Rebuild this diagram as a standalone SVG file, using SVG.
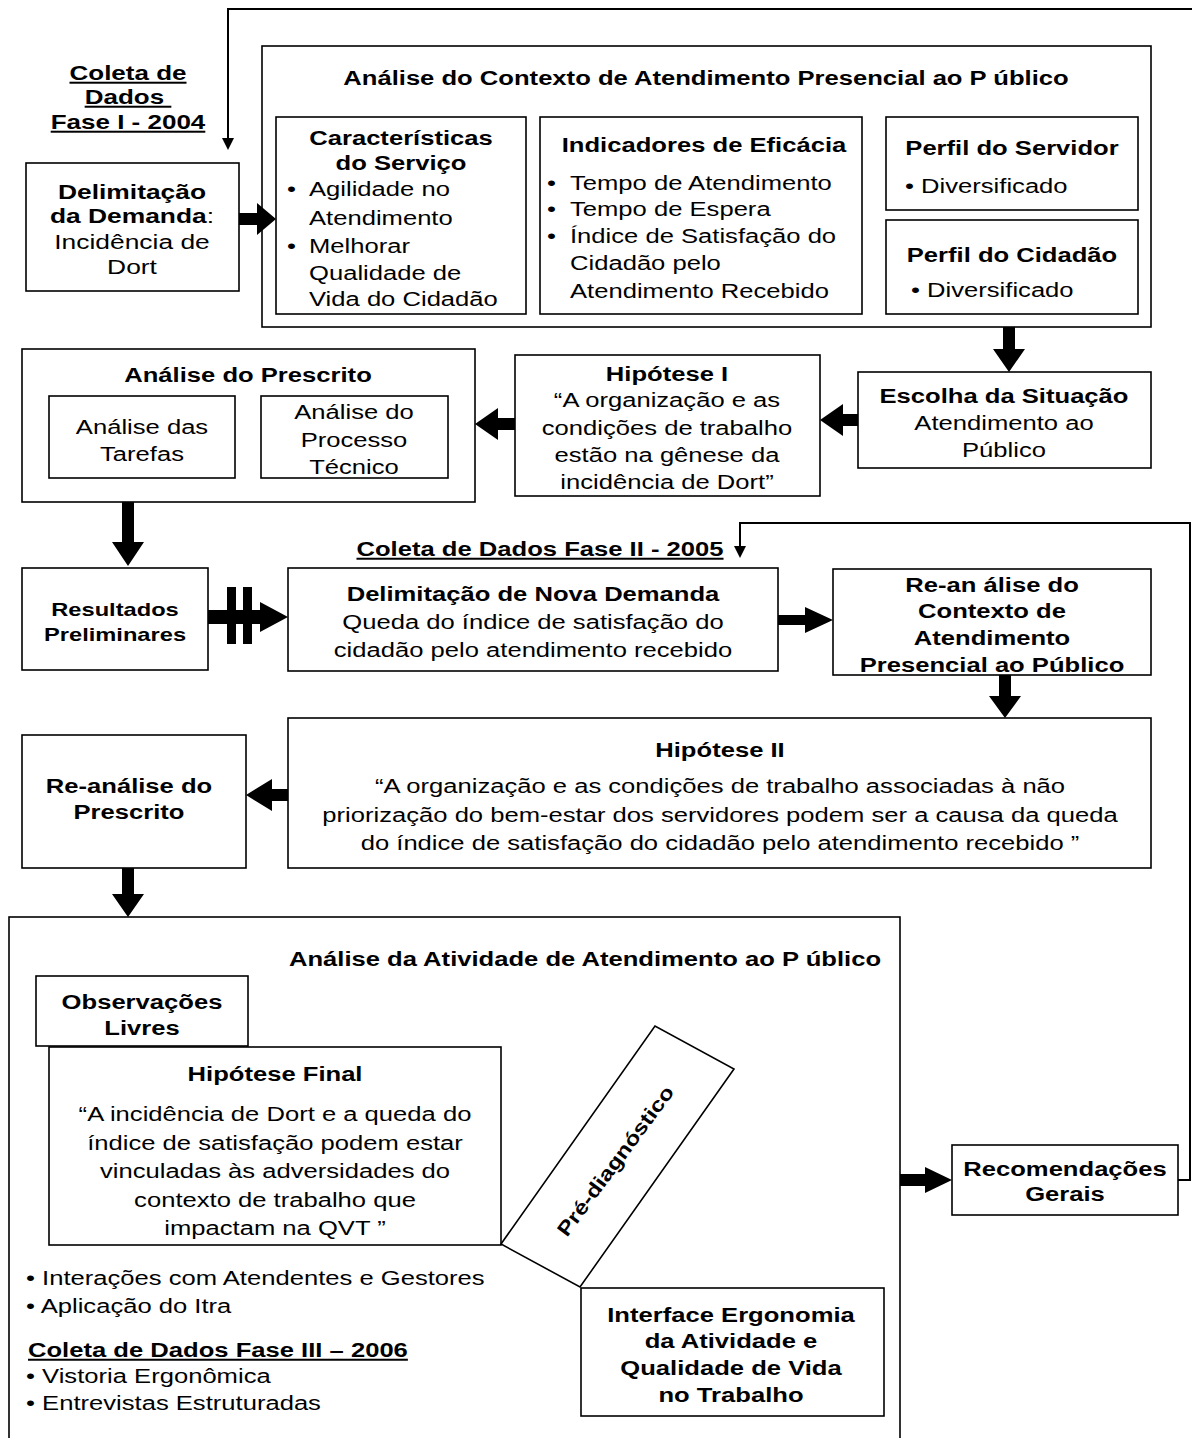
<svg xmlns="http://www.w3.org/2000/svg" width="1192" height="1438" viewBox="0 0 1192 1438">
<style>
text{font-family:"Liberation Sans",Arial,Helvetica,sans-serif;font-size:20px;fill:#000}
.b{font-weight:bold}
.m{text-anchor:middle}
.u{text-decoration:underline}
.box{fill:#fff;stroke:#000;stroke-width:1.6}
.ln{fill:none;stroke:#000;stroke-width:2}
.ar{fill:#000;stroke:none}
</style>
<rect width="1192" height="1438" fill="#fff"/>

<g id="coleta1">
<text class="b m u" transform="translate(128,0) scale(1.3,1)"><tspan x="0" y="80">Coleta de</tspan><tspan x="0" y="104">Dados </tspan><tspan x="0" y="129">Fase I - 2004</tspan></text>
</g>

<g id="delimitacao">
<rect class="box" x="26" y="163" width="213" height="128"/>
<text class="m" transform="translate(132,0) scale(1.32,1)"><tspan x="0" y="199" class="b">Delimitação</tspan><tspan x="0" y="223"><tspan class="b">da Demanda</tspan>:</tspan><tspan x="0" y="249">Incidência de</tspan><tspan x="0" y="274">Dort</tspan></text>
</g>

<g id="contexto">
<rect class="box" x="262" y="46" width="889" height="281"/>
<text class="b m" transform="translate(706,0) scale(1.28,1)"><tspan x="0" y="85">Análise do Contexto de Atendimento Presencial ao P úblico</tspan></text>
<g id="caracteristicas">
<rect class="box" x="276" y="117" width="250" height="197"/>
<text class="b m" transform="translate(401,0) scale(1.28,1)"><tspan x="0" y="145">Características</tspan><tspan x="0" y="170">do Serviço</tspan></text>
<text transform="translate(287,0) scale(1.28,1)"><tspan x="0" y="196">•</tspan><tspan x="0" y="253">•</tspan></text>
<text transform="translate(309,0) scale(1.28,1)"><tspan x="0" y="196">Agilidade no</tspan><tspan x="0" y="225">Atendimento</tspan><tspan x="0" y="253">Melhorar</tspan><tspan x="0" y="280">Qualidade de</tspan><tspan x="0" y="306">Vida do Cidadão</tspan></text>
</g>
<g id="indicadores">
<rect class="box" x="540" y="117" width="322" height="197"/>
<text class="b m" transform="translate(704,0) scale(1.28,1)"><tspan x="0" y="152">Indicadores de Eficácia</tspan></text>
<text transform="translate(547,0) scale(1.28,1)"><tspan x="0" y="190">•</tspan><tspan x="0" y="216">•</tspan><tspan x="0" y="243">•</tspan></text>
<text transform="translate(570,0) scale(1.28,1)"><tspan x="0" y="190">Tempo de Atendimento</tspan><tspan x="0" y="216">Tempo de Espera</tspan><tspan x="0" y="243">Índice de Satisfação do</tspan><tspan x="0" y="270">Cidadão pelo</tspan><tspan x="0" y="298">Atendimento Recebido</tspan></text>
</g>
<g id="perfil-servidor">
<rect class="box" x="886" y="117" width="252" height="93"/>
<text class="b m" transform="translate(1012,0) scale(1.28,1)"><tspan x="0" y="155">Perfil do Servidor</tspan></text>
<text transform="translate(905,0) scale(1.28,1)"><tspan x="0" y="193">• Diversificado</tspan></text>
</g>
<g id="perfil-cidadao">
<rect class="box" x="886" y="220" width="252" height="94"/>
<text class="b m" transform="translate(1012,0) scale(1.28,1)"><tspan x="0" y="262">Perfil do Cidadão</tspan></text>
<text transform="translate(911,0) scale(1.28,1)"><tspan x="0" y="297">• Diversificado</tspan></text>
</g>
</g>

<g id="escolha">
<rect class="box" x="858" y="372" width="293" height="96"/>
<text class="m" transform="translate(1004,0) scale(1.28,1)"><tspan x="0" y="403" class="b">Escolha da Situação</tspan><tspan x="0" y="430">Atendimento ao</tspan><tspan x="0" y="457">Público</tspan></text>
</g>

<g id="hipotese1">
<rect class="box" x="515" y="355" width="305" height="141"/>
<text class="m" transform="translate(667,0) scale(1.28,1)"><tspan x="0" y="381" class="b">Hipótese I</tspan><tspan x="0" y="407">“A organização e as</tspan><tspan x="0" y="435">condições de trabalho</tspan><tspan x="0" y="462">estão na gênese da</tspan><tspan x="0" y="489">incidência de Dort”</tspan></text>
</g>

<g id="prescrito">
<rect class="box" x="22" y="349" width="453" height="153"/>
<text class="b m" transform="translate(248,0) scale(1.28,1)"><tspan x="0" y="382">Análise do Prescrito</tspan></text>
<rect class="box" x="49" y="396" width="186" height="82"/>
<text class="m" transform="translate(142,0) scale(1.28,1)"><tspan x="0" y="434">Análise das</tspan><tspan x="0" y="461">Tarefas</tspan></text>
<rect class="box" x="261" y="396" width="187" height="82"/>
<text class="m" transform="translate(354,0) scale(1.28,1)"><tspan x="0" y="419">Análise do</tspan><tspan x="0" y="447">Processo</tspan><tspan x="0" y="474">Técnico</tspan></text>
</g>

<g id="coleta2">
<text class="b m u" transform="translate(540,0) scale(1.28,1)"><tspan x="0" y="556">Coleta de Dados Fase II - 2005</tspan></text>
</g>

<g id="resultados">
<rect class="box" x="22" y="568" width="186" height="102"/>
<text class="b m" style="font-size:18.5px" transform="translate(115,0) scale(1.28,1)"><tspan x="0" y="616">Resultados</tspan><tspan x="0" y="641">Preliminares</tspan></text>
</g>

<g id="nova-demanda">
<rect class="box" x="288" y="568" width="490" height="103"/>
<text class="m" transform="translate(533,0) scale(1.28,1)"><tspan x="0" y="601" class="b">Delimitação de Nova Demanda</tspan><tspan x="0" y="629">Queda do índice de satisfação do</tspan><tspan x="0" y="657">cidadão pelo atendimento recebido</tspan></text>
</g>

<g id="reanalise-contexto">
<rect class="box" x="833" y="569" width="318" height="106"/>
<text class="b m" transform="translate(992,0) scale(1.28,1)"><tspan x="0" y="592">Re-an álise do</tspan><tspan x="0" y="618">Contexto de</tspan><tspan x="0" y="645">Atendimento</tspan><tspan x="0" y="672">Presencial ao Público</tspan></text>
</g>

<g id="hipotese2">
<rect class="box" x="288" y="718" width="863" height="150"/>
<text class="m" transform="translate(720,0) scale(1.28,1)"><tspan x="0" y="757" class="b">Hipótese II</tspan><tspan x="0" y="793">“A organização e as condições de trabalho associadas à não</tspan><tspan x="0" y="822">priorização do bem-estar dos servidores podem ser a causa da queda</tspan><tspan x="0" y="850">do índice de satisfação do cidadão pelo atendimento recebido ”</tspan></text>
</g>

<g id="reanalise-prescrito">
<rect class="box" x="22" y="735" width="224" height="133"/>
<text class="b m" transform="translate(129,0) scale(1.28,1)"><tspan x="0" y="793">Re-análise do</tspan><tspan x="0" y="819">Prescrito</tspan></text>
</g>

<g id="atividade">
<rect class="box" x="9" y="917" width="891" height="540"/>
<text class="b m" transform="translate(585,0) scale(1.28,1)"><tspan x="0" y="966">Análise da Atividade de Atendimento ao P úblico</tspan></text>
<g id="observacoes">
<rect class="box" x="36" y="976" width="212" height="70"/>
<text class="b m" transform="translate(142,0) scale(1.28,1)"><tspan x="0" y="1009">Observações</tspan><tspan x="0" y="1035">Livres</tspan></text>
</g>
<g id="hipotese-final">
<rect class="box" x="49" y="1047" width="452" height="198"/>
<text class="m" transform="translate(275,0) scale(1.28,1)"><tspan x="0" y="1081" class="b">Hipótese Final</tspan><tspan x="0" y="1121">“A incidência de Dort e a queda do</tspan><tspan x="0" y="1150">índice de satisfação podem estar</tspan><tspan x="0" y="1178">vinculadas às adversidades do</tspan><tspan x="0" y="1207">contexto de trabalho que</tspan><tspan x="0" y="1235">impactam na QVT ”</tspan></text>
</g>
<g id="pre-diagnostico">
<polygon class="box" points="501,1244 655,1026 734,1069 580,1287"/>
<text class="b m" transform="translate(621,1165) rotate(-53.5) scale(1.2,1)">Pré-diagnóstico</text>
</g>
<g id="interface">
<rect class="box" x="581" y="1288" width="303" height="128"/>
<text class="b m" transform="translate(731,0) scale(1.28,1)"><tspan x="0" y="1322">Interface Ergonomia</tspan><tspan x="0" y="1348">da Atividade e</tspan><tspan x="0" y="1375">Qualidade de Vida</tspan><tspan x="0" y="1402">no Trabalho</tspan></text>
</g>
<text transform="translate(26,0) scale(1.28,1)"><tspan x="0" y="1285">• Interações com Atendentes e Gestores</tspan><tspan x="0" y="1313">• Aplicação do Itra</tspan><tspan x="0" y="1383">• Vistoria Ergonômica</tspan><tspan x="0" y="1410">• Entrevistas Estruturadas</tspan></text>
<text class="b u" transform="translate(28,0) scale(1.28,1)"><tspan x="0" y="1357">Coleta de Dados Fase III – 2006</tspan></text>
</g>

<g id="recomendacoes">
<rect class="box" x="952" y="1145" width="226" height="70"/>
<text class="b m" transform="translate(1065,0) scale(1.28,1)"><tspan x="0" y="1176">Recomendações</tspan><tspan x="0" y="1201">Gerais</tspan></text>
</g>

<g id="connectors">
<polyline class="ln" points="1192,9 228,9 228,140"/>
<polygon class="ar" points="222,138 234,138 228,150"/>
<polyline class="ln" points="1178,1180 1190,1180 1190,523 740,523 740,548"/>
<polygon class="ar" points="734,546 746,546 740,558"/>
<polygon class="ar" points="239,213 257,213 257,203 276,219 257,235 257,225 239,225"/>
<polygon class="ar" points="1003,327 1015,327 1015,349 1025,349 1009,372 993,349 1003,349"/>
<polygon class="ar" points="858,414 843,414 843,404 820,420 843,436 843,426 858,426"/>
<polygon class="ar" points="515,418 498,418 498,408 475,424 498,440 498,430 515,430"/>
<polygon class="ar" points="122,502 134,502 134,542 144,542 128,566 112,542 122,542"/>
<polygon class="ar" points="208,610 260,610 260,602 288,617 260,632 260,624 208,624"/>
<rect class="ar" x="227" y="587" width="9" height="57"/>
<rect class="ar" x="243" y="587" width="9" height="57"/>
<polygon class="ar" points="778,615 805,615 805,607 833,620 805,633 805,625 778,625"/>
<polygon class="ar" points="999,675 1011,675 1011,696 1021,696 1005,718 989,696 999,696"/>
<polygon class="ar" points="288,789 272,789 272,779 246,795 272,811 272,801 288,801"/>
<polygon class="ar" points="122,868 134,868 134,894 144,894 128,917 112,894 122,894"/>
<polygon class="ar" points="900,1174 925,1174 925,1167 952,1180 925,1193 925,1186 900,1186"/>
</g>
</svg>
